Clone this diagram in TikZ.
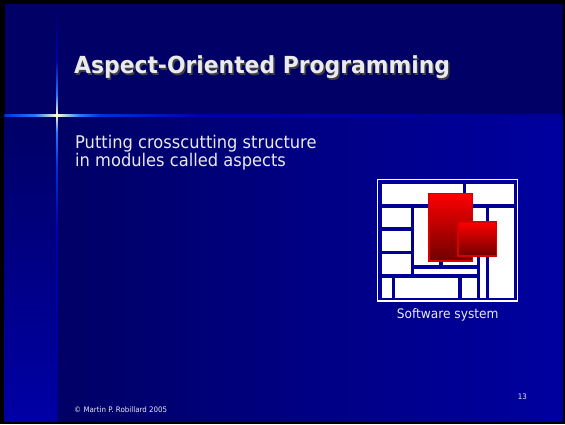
\documentclass[tikz,border=0pt]{standalone}
\usepackage{fontspec}
\setmainfont{DejaVu Sans}[FakeStretch=0.93]
\usepackage{tikz}

\definecolor{slidenavy}{RGB}{0,0,102}
\definecolor{slideblue}{RGB}{0,0,160}
\definecolor{stripblue}{RGB}{0,0,165}
\definecolor{glare}{RGB}{255,255,205}
\definecolor{flareblue}{RGB}{40,120,255}
\definecolor{flaredeep}{RGB}{0,50,225}
\definecolor{flaredim}{RGB}{0,0,172}
\definecolor{textgrey}{RGB}{234,234,238}
\definecolor{gridblue}{RGB}{0,0,150}
\definecolor{aspectred}{RGB}{255,0,0}
\definecolor{aspectdark}{RGB}{112,0,0}
\definecolor{aspectedge}{RGB}{215,0,0}

\begin{document}
\begin{tikzpicture}[x=1pt, y=-1pt]
    % Define styles
    \tikzstyle{heading} = [anchor=base west, inner sep=0pt, font=\fontsize{23.5}{27}\selectfont\bfseries]
    \tikzstyle{bullet} = [anchor=base west, inner sep=0pt, text=textgrey, font=\fontsize{17.5}{20}\selectfont]
    \tikzstyle{small} = [inner sep=0pt, text=textgrey, font=\fontsize{7.6}{9}\selectfont]
    \tikzstyle{cell} = [fill=white]
    \tikzstyle{aspect} = [draw=aspectedge, line width=1.2pt, top color=aspectred, bottom color=aspectdark, anchor=north west, inner sep=0pt]

    % Slide background
    \useasboundingbox (0,0) rectangle (565,424);
    \fill[black] (0,0) rectangle (565,424);
    \fill[slidenavy] (4.5,3.5) rectangle (562.5,117);
    \shade[left color=slidenavy, right color=slideblue] (57,117) rectangle (562.5,421);
    \shade[top color=slidenavy, bottom color=stripblue] (4.5,117) rectangle (57,421);

    % Flare: horizontal arm
    \shade[left color=flaredeep, right color=flareblue] (4.5,114.1) rectangle (35,116);
    \shade[left color=flareblue, right color=glare] (35,114.1) rectangle (57,116);
    \shade[left color=glare, right color=flareblue] (57,114.1) rectangle (80,116);
    \shade[left color=flareblue, right color=flaredeep] (80,114.1) rectangle (100,116);
    \shade[left color=flaredeep, right color=flaredim] (100,114.1) rectangle (200,116);
    \shade[left color=flaredim, right color=gridblue] (200,114.1) rectangle (562.5,116);
    % Flare: vertical arm
    \shade[top color=slidenavy, bottom color=flaredim] (56,8) rectangle (57.8,60);
    \shade[top color=flaredim, bottom color=flareblue] (56,60) rectangle (57.8,95);
    \shade[top color=flareblue, bottom color=glare] (56,95) rectangle (57.8,115);
    \shade[top color=glare, bottom color=flareblue] (56,115) rectangle (57.8,132);
    \shade[top color=flareblue, bottom color=flaredeep] (56,132) rectangle (57.8,165);
    \shade[top color=flaredeep, bottom color=flaredim] (56,165) rectangle (57.8,230);
    \shade[top color=flaredim, bottom color=gridblue] (56,230) rectangle (57.8,421);

    % Title and text
    \node[heading, text=black!75] (titleshadow) at (75.5,75) {Aspect-Oriented Programming};
    \node[heading, text=textgrey] (title) at (74,73.5) {Aspect-Oriented Programming};
    \node[bullet] (pointa) at (75,148.3) {Putting crosscutting structure};
    \node[bullet] (pointb) at (75,166.7) {in modules called aspects};

    % Software system
    \fill[gridblue] (378,180) rectangle (516.7,300.3);
    \draw[white, line width=1.3pt] (377.35,179.35) rectangle (517.35,301);
    \foreach \xa/\ya/\xb/\yb in {381.7/183.7/462.7/204.3, 466/183.7/514/204.3,
        381.7/207.7/411/227, 381.7/231/411/251, 381.7/254.3/411/274.3,
        414.3/207.7/439.3/265.3, 442.7/207.7/486/240, 442.7/240/476.7/265.3,
        414.3/268.7/476.7/274.3, 480/240/486/297.7, 489.3/207.7/514/297.7,
        381.7/277.7/391.7/297.7, 395/277.7/458.3/297.7, 461.7/277.7/476.7/297.7}
        \fill[cell] (\xa,\ya) rectangle (\xb,\yb);
    \node[aspect, minimum width=43.4pt, minimum height=67.6pt] (bigaspect) at (428.3,192.7) {};
    \node[aspect, minimum width=38.4pt, minimum height=34pt] (smallaspect) at (457.3,221.3) {};
    \node[anchor=base, inner sep=0pt, text=textgrey, font=\fontsize{13.1}{15}\selectfont] (caption) at (447.7,318.7) {Software system};

    % Footer
    \node[small, anchor=base west] (credit) at (74,412.3) {\textcopyright{} Martin P. Robillard 2005};
    \node[small, anchor=base east] (pagenum) at (527,399) {13};
\end{tikzpicture}
\end{document}
